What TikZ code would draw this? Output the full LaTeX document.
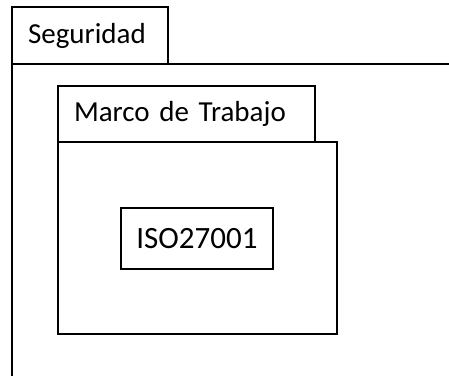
\documentclass[tikz,border=0pt]{standalone}
\usepackage{fontspec}
\setmainfont{Carlito}
\begin{document}
\begin{tikzpicture}[x=1pt,y=-1pt,
  box/.style={draw=black,line width=2pt,rectangle,anchor=north west,inner sep=0pt,outer sep=0pt,font=\fontsize{29}{33}\selectfont},
  tabbox/.style={box,align=left,inner xsep=16pt},
  edge/.style={draw=black,line width=2pt}]
\useasboundingbox (0,0) rectangle (449,375);
\clip (0,0) rectangle (449,375);
% outer package
\node[tabbox,text width=124pt,minimum height=57pt] (segtab) at (12,7) {Seguridad};
\coordinate (segright) at (452,64);
\coordinate (segbottom) at (12,380);
\draw[edge] (segright) -- (segtab.south west) -- (segbottom);
% inner package
\node[tabbox,text width=225pt,minimum height=56pt] (mtab) at (58,86) {Marco de Trabajo};
\node[box,minimum width=279pt,minimum height=192pt] (mbody) at (mtab.south west) {};
% element
\node[box,anchor=center,minimum width=152pt,minimum height=61pt,font=\fontsize{31}{35}\selectfont] (iso) at (197,238.5) {ISO27001};
\end{tikzpicture}
\end{document}
